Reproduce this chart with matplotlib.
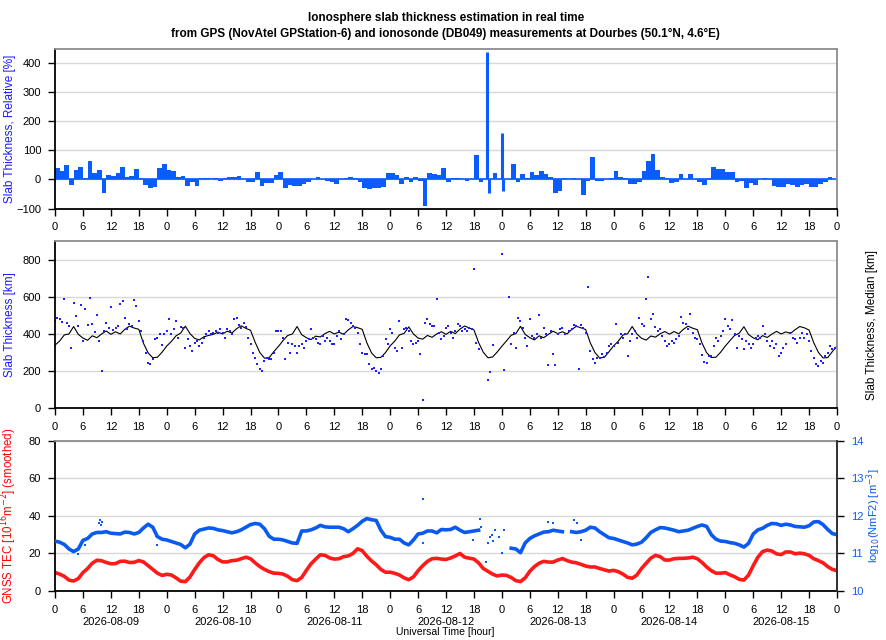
import numpy as np
import matplotlib.pyplot as plt
import matplotlib.transforms as mtransforms

plt.rcParams['font.family'] = ['Liberation Sans', 'DejaVu Sans']
plt.rcParams['font.size'] = 8

nan = np.nan

days = ['2026-08-09', '2026-08-10', '2026-08-11', '2026-08-12',
        '2026-08-13', '2026-08-14', '2026-08-15']

# --- panel 1: relative slab thickness [%], hourly values per day
rel_d1 = [38, 30, 48, -18, 33, 44, 5, 62, 22, 33, -48, 15, 12, 22, 43, 8, 12, 35, 5, -20, -28, -25, 38, 52]
rel_d2 = [32, 28, 10, 12, -22, -10, -22, 4, 6, 0, 4, -5, 4, 7, 10, 12, 0, -8, -10, 26, -24, -12, -14, 16]
rel_d3 = [25, -28, -18, -24, -24, -15, -10, 0, 10, 0, -6, -10, -15, nan, 5, 10, 5, -10, -28, -32, -30, -28, -25, 22]
rel_d4 = [22, 15, -15, 10, -10, 10, -5, -90, 22, 20, 15, 40, -8, 5, 5, 0, -5, 0, 84, -10, nan, nan, 22, nan]
rel_d5 = [nan, nan, 52, -8, 20, 6, 24, 14, 28, 18, 8, -45, -40, 5, nan, 4, 0, -52, -4, 76, -5, -5, 0, 5]
rel_d6 = [30, 10, 5, -16, -16, -8, 30, 64, 88, 32, 10, 5, -14, -10, 20, 0, 20, 0, -10, -20, 5, 42, 36, 36]
rel_d7 = [25, 26, -8, -5, -30, -12, -20, 0, 5, 0, -22, -25, -25, -15, -20, -25, -20, -15, -25, -25, -15, -10, 8, 2]
# narrow spikes (hour since start, value)
spike_h = [92.9, 93.3, 96.05, 96.3]
spike_v = [438, -45, 158, -41]

# --- panel 2: slab thickness [km], every 30 min per day
slab_d1 = [470, 488, 480, 466, 587, 461, 443, 326, 566, 497, 443, 555, 362, 535, 449, 593,
           456, 413, 503, 362, 200, 416, 461, 431, 546, 420, 434, 441, 560, 578, 488, 425,
           452, 445, 582, 551, 470, 416, 362, 299, 245, 236, 263, 371, 380, 398, 340, 402]
slab_d2 = [416, 479, 398, 425, 470, 380, 438, 434, 326, 371, 335, 308, 353, 362, 335, 353,
           380, 398, 416, 398, 407, 416, 407, 425, 407, 380, 425, 416, 398, 479, 488, 449,
           434, 461, 438, 380, 344, 299, 272, 240, 209, 200, 254, 272, 263, 268, 299, 416]
slab_d3 = [416, 416, 380, 263, 353, 299, 344, 335, 299, 335, 344, 326, 362, 371, 425, 380,
           371, 353, 344, 389, 362, 380, 362, 344, 344, 389, 416, 371, 398, 479, 474, 461,
           443, 434, 407, 344, 299, 290, 290, 236, 209, 218, 200, 191, 209, 281, 371, 344]
slab_d4 = [425, 407, 326, 308, 470, 326, 425, 434, 416, 362, 344, 353, 362, 290, 43, 461,
           479, 452, 443, 443, 587, 407, 371, 389, 434, 443, 407, 380, 416, 452, 443, 416,
           425, 416, 434, 425, 752, 353, 317, nan, nan, nan, 152, 197, 340, nan, nan, nan]
slab_d5 = [828, 206, nan, 600, 344, 407, 326, 488, 470, 434, 380, 335, 479, 389, 380, 398,
           503, 380, 434, 398, 232, 416, 294, 232, 398, 425, 434, 398, nan, 416, 425, 449,
           443, 214, 449, 434, 407, 654, 308, 263, 245, 272, 270, 290, 276, 299, 335, 344]
slab_d6 = [335, 456, 353, 398, 380, 398, 281, 362, 398, 416, 380, 488, 456, 443, 587, 704,
           479, 506, 438, 416, 425, 389, 362, 335, 344, 362, 353, 371, 389, 492, 461, 452,
           425, 510, 407, 380, 371, 344, 286, 250, 245, 281, 281, 335, 380, 362, 389, 416]
slab_d7 = [479, 443, 425, 474, 398, 326, 389, 371, 317, 362, 344, 326, 344, 380, 389, 380,
           443, 398, 362, 335, 362, 326, 344, 281, 299, 326, 344, nan, 407, 380, 371, 353,
           380, 407, 380, 398, 362, 308, 272, 236, 227, 254, 245, 281, 299, 335, 317, 326]

# median slab thickness [km], hourly
med_d1 = [340, 362, 395, 400, 440, 398, 378, 366, 390, 380, 400, 416, 398, 412, 400, 425, 442, 432, 425, 350, 298, 272, 275, 302]
med_d2 = [335, 360, 390, 405, 442, 402, 376, 368, 385, 392, 398, 410, 400, 415, 405, 428, 444, 430, 420, 355, 300, 270, 272, 305]
med_d3 = [333, 365, 392, 400, 440, 396, 380, 370, 388, 384, 402, 414, 400, 410, 398, 422, 440, 434, 425, 352, 298, 272, 274, 300]
med_d4 = [336, 362, 395, 403, 438, 400, 378, 372, 392, 382, 400, 412, 398, 414, 402, 426, 443, 432, 422, 354, 302, 272, 276, 303]
med_d5 = [334, 363, 393, 402, 441, 398, 380, 368, 390, 380, 398, 415, 402, 412, 400, 424, 441, 433, 424, 352, 300, 271, 274, 304]
med_d6 = [336, 361, 394, 401, 440, 400, 377, 367, 389, 383, 401, 413, 399, 413, 401, 425, 442, 431, 423, 351, 299, 273, 275, 302]
med_d7 = [335, 364, 392, 404, 439, 397, 379, 369, 391, 381, 399, 414, 400, 411, 403, 423, 440, 433, 421, 353, 301, 271, 273, 305]
med_end = [335]

# --- panel 3: GNSS TEC [TECU], hourly
tec_d1 = [9.8, 9.0, 7.8, 5.8, 5.3, 6.6, 9.8, 12.0, 14.8, 16.4, 16.1, 15.2, 14.5, 14.6, 15.8, 15.9, 15.2, 15.3, 16.2, 15.5, 13.5, 11.5, 9.5, 8.3]
tec_d2 = [8.9, 8.5, 7.0, 5.2, 5.0, 7.5, 11.5, 15.0, 17.8, 19.3, 18.8, 16.8, 15.5, 15.5, 16.2, 16.4, 17.2, 18.0, 17.2, 15.0, 13.0, 11.5, 10.3, 9.5]
tec_d3 = [9.4, 9.0, 7.8, 6.0, 5.5, 7.2, 11.0, 14.5, 17.0, 19.3, 19.0, 17.6, 17.0, 17.2, 18.3, 18.7, 20.0, 22.5, 21.5, 18.5, 16.0, 14.0, 11.5, 10.0]
tec_d4 = [10.0, 9.4, 8.5, 7.0, 6.0, 7.5, 10.8, 13.5, 15.8, 17.2, 17.4, 17.0, 16.8, 17.6, 18.7, 20.0, 18.0, 17.5, 17.0, 15.0, 12.0, 10.5, 9.0, 8.0]
tec_d5 = [8.5, 8.3, 7.2, 5.5, 5.0, 7.0, 10.5, 13.0, 14.8, 15.8, 15.4, 15.4, 16.5, 17.3, 16.2, 15.4, 15.0, 14.2, 13.3, 12.8, 12.8, 12.0, 11.3, 10.6]
tec_d6 = [11.0, 10.3, 9.0, 7.3, 6.8, 8.5, 12.0, 14.8, 17.5, 19.0, 18.3, 16.5, 16.5, 17.2, 17.4, 17.4, 17.6, 18.0, 17.2, 15.2, 12.8, 10.8, 9.5, 9.5]
tec_d7 = [9.8, 8.6, 7.6, 6.2, 5.8, 8.5, 13.5, 18.0, 21.0, 21.8, 21.3, 19.8, 19.4, 20.8, 20.8, 19.8, 20.2, 19.8, 19.0, 17.2, 16.2, 15.0, 13.0, 11.5]
tec_end = [10.8]

# log10(NmF2) [m-3], hourly
nm_d1 = [11.33, 11.30, 11.24, 11.12, 11.05, 11.12, 11.35, 11.40, 11.52, 11.56, 11.56, 11.58, 11.54, 11.53, 11.52, 11.57, 11.56, 11.52, 11.56, 11.68, 11.78, 11.70, 11.45, 11.38]
nm_d2 = [11.36, 11.32, 11.28, 11.24, 11.15, 11.25, 11.52, 11.62, 11.65, 11.68, 11.67, 11.63, 11.61, 11.58, 11.55, 11.58, 11.63, 11.70, 11.77, 11.80, 11.78, 11.66, 11.46, 11.38]
nm_d3 = [11.38, 11.36, 11.32, 11.28, 11.27, 11.60, 11.60, 11.63, 11.68, 11.75, 11.71, 11.70, 11.70, 11.70, 11.66, 11.58, 11.66, 11.75, 11.86, 11.93, 11.90, 11.88, 11.62, 11.45]
nm_d4 = [11.43, 11.38, 11.38, 11.28, 11.23, 11.36, 11.52, 11.54, 11.60, 11.60, 11.55, 11.64, 11.63, 11.64, 11.70, 11.62, 11.56, 11.58, 11.60, 11.62, nan, nan, nan, nan]
nm_d5 = [11.62, nan, 11.14, 11.12, 11.02, 11.28, 11.40, 11.47, 11.52, 11.57, 11.58, 11.62, 11.60, 11.58, nan, 11.58, 11.56, 11.58, 11.62, 11.70, 11.68, 11.58, 11.50, 11.42]
nm_d6 = [11.40, 11.36, 11.32, 11.28, 11.23, 11.25, 11.30, 11.42, 11.56, 11.63, 11.69, 11.68, 11.65, 11.62, 11.58, 11.60, 11.62, 11.67, 11.72, 11.76, 11.72, 11.50, 11.38, 11.33]
nm_d7 = [11.32, 11.29, 11.27, 11.23, 11.17, 11.27, 11.52, 11.63, 11.67, 11.75, 11.80, 11.79, 11.75, 11.78, 11.76, 11.72, 11.71, 11.70, 11.74, 11.84, 11.85, 11.77, 11.64, 11.53]
nm_end = [11.50]
# scattered NmF2 samples (hour since start, value)
nm_pts_h = [9.4, 9.7, 9.9, 10.1, 5.0, 6.5, 21.6, 22.0, 79.1, 79.0, 89.9, 90.3, 91.3, 91.6, 92.6,
            93.0, 93.4, 93.8, 94.1, 94.6, 95.3, 96.0, 96.4, 106.0, 107.0, 111.4, 112.1, 113.1]
nm_pts_v = [11.82, 11.90, 11.75, 11.85, 10.99, 11.22, 11.47, 11.23, 12.45, 11.29, 11.36, 11.60,
            11.91, 11.70, 10.78, 11.27, 11.45, 11.49, 11.32, 11.63, 11.45, 11.00, 11.63, 11.85,
            11.80, 11.89, 11.80, 11.36]

rel = np.array(rel_d1 + rel_d2 + rel_d3 + rel_d4 + rel_d5 + rel_d6 + rel_d7, dtype=float)
slab = np.array(slab_d1 + slab_d2 + slab_d3 + slab_d4 + slab_d5 + slab_d6 + slab_d7, dtype=float)
med = np.array(med_d1 + med_d2 + med_d3 + med_d4 + med_d5 + med_d6 + med_d7 + med_end, dtype=float)
tec = np.array(tec_d1 + tec_d2 + tec_d3 + tec_d4 + tec_d5 + tec_d6 + tec_d7 + tec_end)
nm = np.array(nm_d1 + nm_d2 + nm_d3 + nm_d4 + nm_d5 + nm_d6 + nm_d7 + nm_end)

t_rel = np.arange(len(rel)) + 0.5
t_slab = np.arange(len(slab)) * 0.5
t_med = np.arange(len(med))
t_tec = np.arange(len(tec))

BLUE_BAR = '#0a5cff'
BLUE_PT = '#1f1fff'
BLUE_NM = '#0a5af0'
RED = '#ff1a1a'
GRID = '#d8d8d8'


def style_axes(ax, right_black=False):
    ax.set_xlim(0, 168)
    xt = np.arange(0, 169, 6)
    ax.set_xticks(xt)
    ax.set_xticklabels([str(h % 24) for h in xt])
    ax.set_xticks(np.arange(0, 169, 24), minor=True)
    ax.tick_params(axis='x', which='minor', length=0)
    ax.grid(True, axis='x', which='minor', color=GRID, lw=1)
    ax.grid(True, axis='y', which='major', color=GRID, lw=1)
    ax.tick_params(axis='both', which='major', direction='out', length=5,
                   width=1, pad=5, labelsize=8)
    ax.set_axisbelow(True)
    for s in ['left', 'bottom']:
        ax.spines[s].set_color('black')
        ax.spines[s].set_linewidth(1.3)
    ax.spines['top'].set_color('#8c8c8c')
    ax.spines['top'].set_linewidth(1.3)
    ax.spines['right'].set_color('#333333' if right_black else '#8c8c8c')
    ax.spines['right'].set_linewidth(1.3)


fig = plt.figure(figsize=(8.86, 6.40), dpi=100)
ax1 = fig.add_axes([0.0621, 0.6742, 0.8826, 0.25])
ax2 = fig.add_axes([0.0621, 0.362, 0.8826, 0.2614])
ax3 = fig.add_axes([0.0621, 0.0766, 0.8826, 0.2344])

fig.text(0.503, 0.982, 'Ionosphere slab thickness estimation in real time\n'
         'from GPS (NovAtel GPStation-6) and ionosonde (DB049) measurements at Dourbes (50.1°N, 4.6°E)',
         ha='center', va='top', fontsize=8.5, fontweight='bold', linespacing=1.5)

# panel 1
ax1.bar(t_rel, rel, width=1.0, color=BLUE_BAR, linewidth=0)
ax1.vlines(spike_h, 0, spike_v, color=BLUE_BAR, lw=2.2)
ax1.axhline(0, color=BLUE_BAR, lw=1.2, zorder=1)
ax1.set_ylim(-100, 450)
ax1.set_yticks([-100, 0, 100, 200, 300, 400])
style_axes(ax1)
ax1.set_ylabel('Slab Thickness, Relative [%]', color='#1a1aff', fontsize=8.5)
ax1.yaxis.set_label_coords(-0.05, 0.5)

# panel 2
ax2.plot(t_med, med, color='black', lw=0.8)
ax2.plot(t_slab, slab, 's', ms=2.1, mew=0, color=BLUE_PT)
ax2.set_ylim(0, 900)
ax2.set_yticks([0, 200, 400, 600, 800])
style_axes(ax2)
ax2.set_ylabel('Slab Thickness [km]', color='#1a1aff', fontsize=8.5)
ax2.yaxis.set_label_coords(-0.05, 0.5)
ax2.text(1.045, 0.5, 'Slab Thickness, Median [km]', transform=ax2.transAxes,
         rotation=90, ha='center', va='center', fontsize=8.5)

# panel 3
ax3r = ax3.twinx()
ax3.plot(t_tec, tec, color=RED, lw=2.6)
ax3.set_ylim(0, 80)
ax3.set_yticks([0, 20, 40, 60, 80])
style_axes(ax3, right_black=True)
ax3.set_ylabel(r'GNSS TEC [10$^{16}$m$^{-2}$] (smoothed)', color='red', fontsize=8.3)
ax3.yaxis.set_label_coords(-0.046, 0.5)

# date labels under the 12 h ticks
trans = mtransforms.blended_transform_factory(ax3.transData, ax3.transAxes)
for i, d in enumerate(days):
    ax3.text(i * 24 + 12, -0.205, d, transform=trans, ha='center', va='center', fontsize=8)

ax3r.plot(t_tec, nm, color=BLUE_NM, lw=2.6)
ax3r.plot(nm_pts_h, nm_pts_v, 's', ms=2.0, mew=0, color=BLUE_NM)
ax3r.set_ylim(10, 14)
ax3r.set_yticks([10, 11, 12, 13, 14])
ax3r.tick_params(axis='y', direction='out', length=5, width=1, pad=5,
                 labelsize=8, labelcolor=BLUE_NM)
for s in ['left', 'top', 'bottom']:
    ax3r.spines[s].set_visible(False)
ax3r.spines['right'].set_color('#333333')
ax3r.spines['right'].set_linewidth(1.3)
ax3r.set_ylabel(r'log$_{10}$(NmF2) [m$^{-3}$]', color=BLUE_NM, fontsize=8)
ax3r.yaxis.set_label_coords(1.035, 0.5)

fig.text(0.503, 0.004, 'Universal Time [hour]', ha='center', va='bottom', fontsize=7.5)

fig.savefig('out.png', dpi=100)
